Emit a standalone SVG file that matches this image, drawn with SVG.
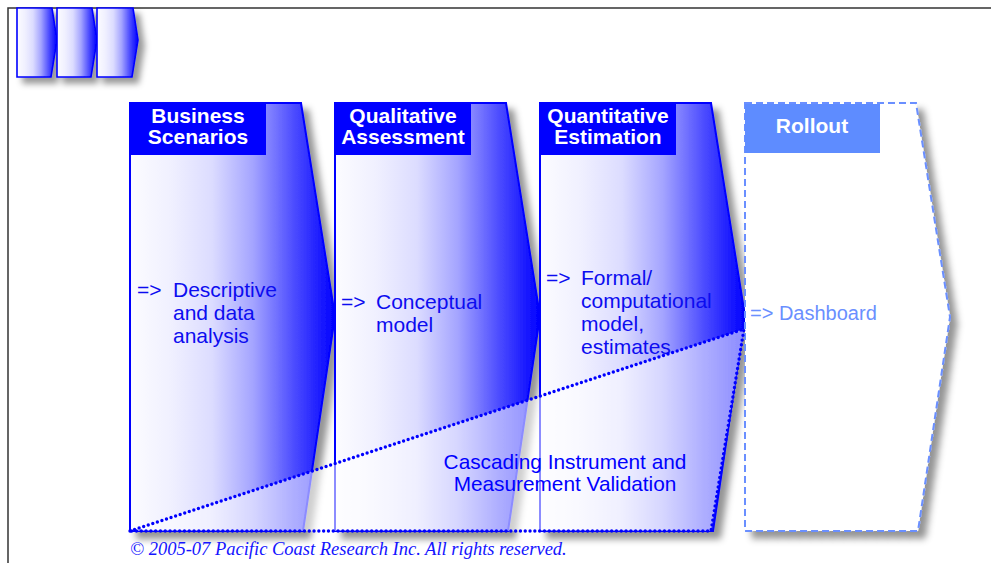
<svg xmlns="http://www.w3.org/2000/svg" width="991" height="563" viewBox="0 0 991 563">
  <defs>
    <linearGradient id="phaseFill" x1="0" y1="0" x2="1" y2="0">
      <stop offset="0" stop-color="#fcfcff"/>
      <stop offset="0.2" stop-color="#f0f0ff"/>
      <stop offset="0.4" stop-color="#dcdcff"/>
      <stop offset="0.6" stop-color="#a4a4ff"/>
      <stop offset="0.8" stop-color="#4c4cff"/>
      <stop offset="1" stop-color="#0000ff"/>
    </linearGradient>
    <filter id="shadow" x="-10%" y="-10%" width="130%" height="130%">
      <feDropShadow dx="7" dy="7" stdDeviation="3.5" flood-color="#000" flood-opacity="0.42"/>
    </filter>
    <filter id="shadowSmall" x="-20%" y="-20%" width="150%" height="150%">
      <feDropShadow dx="6" dy="6" stdDeviation="3" flood-color="#000" flood-opacity="0.4"/>
    </filter>
  </defs>
  <style>
    .phase { fill: url(#phaseFill); stroke: #0000ff; stroke-width: 2; stroke-linejoin: miter; }
    .mini { fill: url(#phaseFill); stroke: #0000ff; stroke-width: 1.6; }
    .head { fill: #0000ff; }
    .headText { font-family: "Liberation Sans", Arial, sans-serif; font-weight: bold; font-size: 21px; fill: #ffffff; text-anchor: middle; }
    .body { font-family: "Liberation Sans", Arial, sans-serif; font-size: 21px; fill: #0c0cf0; }
    .rollout { fill: #ffffff; stroke: #6a8fff; stroke-width: 2; stroke-dasharray: 7 4; }
    .dots { fill: none; stroke: #0000ff; stroke-width: 3.4; stroke-dasharray: 0 4.8; stroke-linecap: round; }
    .note { font-family: "Liberation Sans", Arial, sans-serif; font-size: 20.8px; fill: #0000ff; text-anchor: middle; }
    .copy { font-family: "Liberation Serif", "Times New Roman", serif; font-style: italic; font-size: 18.5px; fill: #1414ff; }
  </style>

  <rect width="991" height="563" fill="#ffffff"/>

  <!-- page frame -->
  <path d="M8,563 L8,8 L991,8" fill="none" stroke="#333333" stroke-width="1.5"/>

  <!-- small process icon -->
  <g id="icon" filter="url(#shadowSmall)">
    <path class="mini" d="M17,8 L52,8 L57,40 L51,77 L17,77 Z"/>
    <path class="mini" d="M57,8 L92,8 L97,40 L91,77 L57,77 Z"/>
    <path class="mini" d="M97,8 L133,8 L138,40 L132,77 L97,77 Z"/>
  </g>

  <!-- phase 1 -->
  <g id="business-scenarios">
    <path class="phase" filter="url(#shadow)" d="M130,103 L301,103 L335,316 L303,531 L130,531 Z"/>
    <rect class="head" x="130" y="103" width="136" height="52"/>
    <text class="headText" x="198" y="123">Business</text>
    <text class="headText" x="198" y="144">Scenarios</text>
    <text class="body" x="137" y="297">=&gt;</text>
    <text class="body" x="173" y="297">Descriptive</text>
    <text class="body" x="173" y="320">and data</text>
    <text class="body" x="173" y="343">analysis</text>
  </g>

  <!-- phase 2 -->
  <g id="qualitative-assessment">
    <path class="phase" filter="url(#shadow)" d="M335,103 L506,103 L540,316 L508,531 L335,531 Z"/>
    <rect class="head" x="335" y="103" width="136" height="52"/>
    <text class="headText" x="403" y="123">Qualitative</text>
    <text class="headText" x="403" y="144">Assessment</text>
    <text class="body" x="341" y="309">=&gt;</text>
    <text class="body" x="376" y="309">Conceptual</text>
    <text class="body" x="376" y="332">model</text>
  </g>

  <!-- phase 3 -->
  <g id="quantitative-estimation">
    <path class="phase" filter="url(#shadow)" d="M540,103 L711,103 L745,316 L713,531 L540,531 Z"/>
    <rect class="head" x="540" y="103" width="136" height="52"/>
    <text class="headText" x="608" y="123">Quantitative</text>
    <text class="headText" x="608" y="144">Estimation</text>
    <text class="body" x="546" y="285">=&gt;</text>
    <text class="body" x="581" y="285">Formal/</text>
    <text class="body" x="581" y="308">computational</text>
    <text class="body" x="581" y="331">model,</text>
    <text class="body" x="581" y="354">estimates</text>
  </g>

  <!-- phase 4 (planned) -->
  <g id="rollout">
    <path class="rollout" filter="url(#shadow)" d="M745,103 L916,103 L950,317 L918,531 L745,531 Z"/>
    <rect x="745" y="104" width="135" height="49" fill="#5e8cff"/>
    <text class="headText" x="812" y="133">Rollout</text>
    <text class="body" x="750" y="320" style="fill:#6a8fff;font-size:20px">=&gt; Dashboard</text>
  </g>

  <!-- cascading validation wedge -->
  <g id="connectors">
    <path d="M130,531 L744,329 L711,531 Z" fill="#ffffff" fill-opacity="0.55"/>
    <path class="dots" d="M130,531 L744,329 L711,531 L130,531"/>
    <text class="note" x="565" y="469">Cascading Instrument and</text>
    <text class="note" x="565" y="491">Measurement Validation</text>
  </g>

  <text class="copy" x="130" y="555">© 2005-07 Pacific Coast Research Inc. All rights reserved.</text>
</svg>
